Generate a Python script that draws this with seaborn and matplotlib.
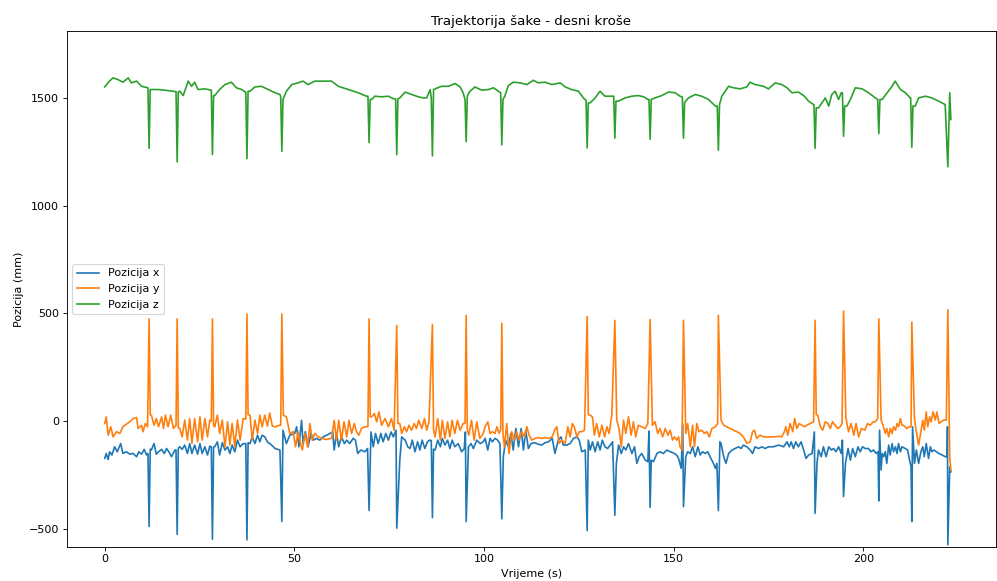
import matplotlib
matplotlib.use("Agg")
import matplotlib.pyplot as plt
import seaborn as sns
import pandas as pd

# trenuci udaraca (s) i vrijednosti u vrhovima
udarci_t = [11.7, 19.1, 28.4, 37.5, 46.7, 69.7, 77.0, 86.4, 95.3, 104.7,
            127.2, 134.5, 143.8, 152.6, 161.8, 187.3, 194.8, 204.1, 212.8, 222.3]
udarci_x = [-489, -525, -548, -551, -466, -415, -497, -448, -466, -454,
            -508, -437, -400, -397, -415, -428, -350, -370, -466, -574]
udarci_y = [475, 475, 475, 498, 498, 475, 444, 449, 491, 455,
            486, 468, 472, 468, 491, 468, 511, 475, 460, 517]
udarci_z = [1267, 1204, 1238, 1219, 1253, 1293, 1238, 1232, 1298, 1283,
            1269, 1314, 1309, 1314, 1258, 1267, 1323, 1335, 1272, 1181]

# (vrijeme, pozicija) izmedju udaraca
poz_x = [
    (0.0, -173), (0.4, -150), (0.9, -178), (1.3, -142), (1.9, -157), (2.6, -119), (3.3, -142),
    (4.2, -104), (4.8, -150), (5.7, -142), (6.6, -153), (7.5, -150), (8.4, -165), (9.0, -142),
    (9.7, -153), (10.4, -131), (11.0, -157), (11.4, -150), (12.0, -130), (12.3, -134), (13.0, -104),
    (13.6, -153), (14.2, -142), (15.0, -131), (15.7, -150), (16.3, -127), (16.9, -142), (17.6, -165),
    (18.5, -134), (18.8, -134), (19.4, -125), (19.8, -119), (20.4, -131), (21.1, -111), (21.8, -150),
    (22.4, -104), (23.0, -150), (23.7, -111), (24.5, -153), (25.1, -104), (25.7, -150), (26.4, -119),
    (27.1, -157), (27.7, -116), (28.1, -120), (28.7, -120), (29.0, -119), (29.7, -96), (30.3, -157),
    (31.0, -100), (31.7, -134), (32.4, -119), (33.0, -150), (33.6, -111), (34.3, -142), (35.0, -88),
    (35.7, -119), (36.5, -104), (37.2, -105), (37.8, -100), (38.3, -104), (38.9, -73), (39.6, -104),
    (40.3, -65), (40.9, -96), (41.5, -65), (42.2, -73), (42.9, -96), (44.0, -111), (44.9, -127),
    (46.2, -134), (47.0, -42), (47.9, -104), (48.8, -65), (50.1, -57), (50.6, -26), (51.2, -119),
    (51.9, 4), (52.3, -104), (52.9, -49), (53.6, -119), (54.4, -57), (55.0, -88), (55.8, -80),
    (56.7, -88), (57.6, -73), (58.5, -65), (59.4, -57), (60.1, -50), (60.5, -134), (61.1, -57),
    (61.7, -119), (62.4, -73), (63.2, -104), (63.8, -88), (64.6, -104), (65.5, -80), (66.1, -88),
    (66.7, -150), (67.5, -134), (68.6, -142), (69.3, -127), (70.2, -50), (70.8, -119), (71.4, -57),
    (72.1, -104), (72.8, -57), (73.4, -96), (74.1, -57), (74.8, -88), (75.5, -50), (76.1, -73),
    (76.8, -42), (77.8, -181), (78.3, -73), (79.2, -88), (79.9, -119), (80.5, -127), (81.1, -88),
    (81.8, -142), (82.5, -96), (83.1, -134), (83.7, -88), (84.4, -127), (85.1, -96), (85.7, -88),
    (86.1, -90), (86.7, -130), (87.1, -134), (87.8, -88), (88.5, -119), (89.0, -80), (89.7, -111),
    (90.4, -88), (91.0, -127), (91.6, -88), (92.3, -119), (93.2, -104), (94.1, -142), (94.8, -127),
    (95.1, -50), (95.9, -119), (96.6, -104), (97.2, -127), (98.1, -88), (99.0, -104), (99.8, -96),
    (100.3, -80), (101.0, -134), (101.6, -80), (102.2, -96), (102.9, -80), (103.6, -88), (104.2, -104),
    (105.1, -165), (105.7, -88), (106.4, -119), (107.1, -57), (107.7, -134), (108.4, -34), (109.1, -119),
    (109.8, -34), (110.4, -134), (111.0, -42), (111.7, -127), (112.4, -104), (113.3, -100), (114.3, -107),
    (115.2, -111), (116.1, -100), (117.0, -96), (118.0, -80), (118.7, -150), (119.6, -88), (120.3, -73),
    (120.9, -111), (121.8, -111), (122.7, -104), (123.6, -80), (124.5, -73), (125.1, -88), (125.8, -142),
    (126.7, -134), (127.5, -88), (128.0, -134), (128.6, -96), (129.3, -142), (130.0, -96), (130.6, -134),
    (131.2, -88), (131.9, -119), (132.6, -127), (133.3, -111), (133.9, -96), (134.9, -196), (135.5, -111),
    (136.2, -150), (136.8, -119), (137.4, -134), (138.1, -104), (139.0, -150), (139.7, -119), (140.3, -196),
    (140.9, -165), (141.6, -150), (142.5, -181), (143.2, -188), (143.5, -46), (144.1, -181), (144.7, -188),
    (145.6, -150), (146.4, -142), (147.3, -150), (148.2, -134), (149.1, -142), (150.2, -150), (150.8, -157),
    (151.3, -173), (152.0, -219), (152.4, -15), (153.2, -165), (153.7, -142), (154.4, -150), (155.0, -119),
    (155.7, -165), (156.4, -119), (157.0, -157), (157.6, -142), (158.3, -150), (159.0, -142), (159.6, -165),
    (160.5, -196), (161.0, -219), (161.4, -196), (162.2, -96), (162.5, -104), (163.2, -165), (163.8, -196),
    (164.5, -150), (165.4, -134), (166.2, -127), (167.1, -119), (167.8, -127), (168.4, -111), (169.3, -119),
    (170.2, -134), (170.8, -150), (171.5, -119), (172.4, -127), (173.3, -119), (174.1, -127), (175.0, -119),
    (176.3, -119), (177.7, -111), (179.0, -119), (179.9, -96), (180.5, -119), (181.0, -96), (181.6, -127),
    (182.2, -96), (182.9, -119), (183.6, -96), (184.3, -134), (184.9, -173), (185.6, -157), (186.5, -150),
    (187.1, -50), (187.8, -196), (188.2, -134), (188.9, -165), (189.5, -119), (190.2, -165), (190.9, -119),
    (191.6, -134), (192.2, -127), (192.8, -142), (193.5, -119), (194.2, -150), (194.5, -88), (195.3, -196),
    (196.0, -127), (196.6, -181), (197.2, -127), (197.9, -165), (198.6, -119), (199.2, -142), (199.8, -119),
    (200.5, -127), (201.4, -127), (202.0, -142), (202.7, -134), (203.4, -150), (203.9, -142), (204.3, -42),
    (204.7, -227), (205.0, -150), (205.4, -165), (205.8, -142), (206.2, -196), (206.7, -111), (207.1, -157),
    (207.6, -104), (208.0, -142), (208.5, -119), (208.9, -150), (209.3, -104), (209.8, -142), (210.2, -119),
    (211.1, -127), (211.7, -134), (212.2, -181), (212.6, -212), (213.0, -26), (213.5, -196), (214.0, -134),
    (214.6, -196), (215.2, -142), (215.7, -119), (216.1, -165), (216.6, -104), (217.2, -173), (217.7, -119),
    (218.1, -142), (218.6, -134), (219.3, -142), (219.9, -150), (220.8, -157), (221.6, -165), (222.1, -165),
    (222.2, -26), (222.8, -212), (223.1, -235),
]

poz_y = [
    (0.0, -11), (0.4, 20), (0.9, -65), (1.6, -26), (2.2, -73), (3.1, -49), (4.0, -57), (4.8, -26),
    (5.7, -14), (6.6, -3), (7.5, 12), (8.4, 17), (8.8, -34), (9.7, -19), (10.1, -49), (10.7, -11),
    (11.3, -26), (12.0, 30), (12.3, 28), (13.0, -19), (13.6, 12), (14.2, -26), (15.0, 20), (15.5, -34),
    (16.0, 28), (16.7, -26), (17.4, 28), (18.1, -34), (18.8, -20), (19.4, -30), (19.8, -34), (20.4, -73),
    (21.1, 5), (21.8, -88), (22.4, 12), (23.0, -103), (23.7, 12), (24.5, -96), (25.1, 20), (25.7, -88),
    (26.4, 12), (27.1, -73), (27.7, 5), (28.1, 0), (28.7, -20), (29.0, -26), (29.7, 28), (30.3, -57),
    (31.0, 5), (31.7, -119), (32.4, -3), (33.0, -111), (33.6, -11), (34.3, -119), (35.0, 5), (35.7, -88),
    (36.5, 12), (37.2, 10), (37.8, 30), (38.3, 28), (38.9, -88), (39.6, 5), (40.3, -57), (40.9, 28),
    (41.5, -26), (42.2, 28), (42.9, -23), (43.5, 38), (44.2, -23), (44.9, -26), (46.2, -19), (46.4, -19),
    (47.1, 28), (47.9, 20), (48.8, -57), (49.7, -49), (50.3, -119), (51.0, -49), (51.4, -88), (52.1, -134),
    (52.8, -57), (53.5, -119), (54.1, -11), (54.7, -88), (55.4, -57), (56.3, -73), (57.2, -80), (58.5, -85),
    (59.8, -80), (60.5, 4), (61.1, -88), (61.7, 4), (62.4, -88), (63.1, -3), (63.8, -73), (64.4, 4),
    (65.1, -57), (65.8, -11), (66.4, -49), (67.0, -65), (67.7, -34), (68.6, -26), (69.4, -26), (70.0, 20),
    (70.4, 20), (71.1, 35), (71.7, -3), (72.3, 43), (73.0, -19), (73.9, 12), (74.8, -26), (75.6, 12),
    (76.3, -42), (77.3, -11), (77.8, -11), (78.3, -57), (79.0, -26), (79.6, -49), (80.2, -19), (80.9, -42),
    (81.6, -11), (82.2, -34), (82.8, 4), (83.6, -34), (84.3, 12), (84.9, -42), (85.5, -3), (86.7, -40),
    (87.1, -73), (87.8, 12), (88.5, -88), (89.0, 4), (89.7, -80), (90.4, -3), (91.0, -73), (91.6, 4),
    (92.3, -57), (93.0, 4), (93.7, -42), (94.5, -11), (95.0, -11), (95.6, -40), (96.0, -65), (96.7, 4),
    (97.4, -88), (98.1, -3), (98.9, -80), (99.8, -57), (100.3, -26), (101.0, -3), (101.6, -57), (102.2, -49),
    (102.9, -57), (103.4, -26), (104.0, -57), (104.4, -40), (105.0, -60), (105.4, -119), (106.0, -11),
    (106.6, -150), (107.3, -49), (108.0, -88), (108.6, -49), (109.2, -88), (109.9, -49), (110.7, -73),
    (111.3, -26), (111.9, -65), (112.6, -88), (113.5, -80), (114.3, -76), (115.2, -80), (116.1, -76),
    (117.0, -80), (118.0, -73), (118.6, -42), (119.2, -26), (119.8, -103), (120.5, -88), (121.4, -103),
    (122.1, -26), (122.7, -73), (123.3, -11), (123.8, -26), (124.5, -73), (125.1, -49), (125.8, -49),
    (126.5, -42), (127.5, 30), (128.0, 28), (128.6, 20), (129.1, -65), (129.7, -11), (130.4, -73),
    (131.1, -19), (131.8, -73), (132.4, -26), (133.0, -57), (133.7, 28), (135.0, 5), (135.6, -34),
    (136.2, -119), (136.8, 5), (137.4, -57), (138.1, 20), (138.8, -65), (139.4, -3), (140.0, -73),
    (140.7, -19), (141.6, -26), (142.5, -34), (143.2, -11), (144.4, -19), (145.1, -3), (145.8, -57),
    (146.4, -34), (147.1, -73), (147.8, -34), (148.5, -65), (149.1, -42), (149.7, -88), (150.2, -73),
    (150.8, -88), (151.3, -73), (151.7, -119), (152.2, -134), (153.2, -57), (153.7, -11), (154.4, -119),
    (155.0, -19), (155.5, -119), (156.1, -11), (156.7, -49), (157.4, -42), (158.1, -57), (158.8, -49),
    (159.4, -73), (160.1, -34), (161.0, -26), (161.6, -11), (162.5, 5), (163.2, -19), (164.0, -26),
    (164.9, -34), (165.8, -42), (166.7, -49), (167.5, -57), (168.4, -73), (169.3, -103), (170.2, -96),
    (170.8, -49), (171.3, -42), (171.9, -80), (172.8, -65), (173.7, -73), (175.0, -73), (176.4, -73),
    (177.7, -70), (178.5, -73), (179.2, -49), (179.6, -26), (180.1, -65), (180.7, -11), (181.4, -49),
    (181.9, 12), (182.5, -34), (183.1, -11), (183.8, -19), (184.5, -26), (185.1, -19), (186.0, -11),
    (186.9, -3), (187.6, 30), (188.0, 28), (188.7, -26), (189.3, -42), (190.0, -3), (190.7, -11),
    (191.3, -34), (191.9, -3), (192.6, -19), (193.3, -34), (193.9, -26), (194.4, -11), (195.4, 20),
    (196.1, -49), (196.8, -11), (197.5, -65), (198.1, -11), (198.8, -73), (199.5, -34), (200.4, -42),
    (201.1, -11), (201.8, -19), (202.6, -3), (203.2, -3), (203.8, 12), (204.7, 5), (205.2, -19),
    (205.8, -57), (206.2, -34), (206.7, -73), (207.1, -34), (207.6, -57), (208.0, -26), (208.5, -42),
    (208.9, -11), (209.3, -26), (209.8, 12), (210.2, -19), (210.6, -19), (211.5, -34), (212.2, -26),
    (212.6, -26), (213.5, 12), (214.0, -49), (214.6, -111), (215.2, -49), (215.7, 4), (216.1, -42),
    (216.6, 43), (217.0, -26), (217.5, 20), (217.9, -3), (218.4, 43), (219.0, 5), (219.4, 43),
    (220.0, -11), (220.5, -3), (221.2, 5), (221.9, 5), (222.8, -165), (223.1, -227),
]

poz_z = [
    (0.0, 1552), (1.3, 1580), (2.2, 1594), (3.5, 1586), (4.8, 1574), (6.2, 1594), (7.0, 1571),
    (8.4, 1579), (9.7, 1555), (11.3, 1548), (11.4, 1548), (12.0, 1540), (12.3, 1540), (14.1, 1540),
    (15.8, 1537), (18.0, 1532), (18.8, 1530), (19.4, 1530), (19.8, 1532), (20.7, 1512), (22.0, 1579),
    (22.9, 1555), (23.7, 1574), (24.6, 1540), (26.4, 1543), (28.0, 1537), (28.1, 1537), (28.7, 1512),
    (29.0, 1512), (30.3, 1540), (31.7, 1563), (33.4, 1574), (34.7, 1548), (36.1, 1540), (37.1, 1528),
    (37.2, 1528), (37.8, 1532), (38.3, 1532), (39.6, 1552), (41.3, 1555), (43.1, 1540), (44.9, 1525),
    (46.2, 1517), (46.4, 1505), (47.0, 1494), (47.9, 1532), (49.3, 1563), (51.0, 1571), (52.3, 1579),
    (53.6, 1563), (55.4, 1579), (57.2, 1579), (59.8, 1579), (61.6, 1555), (64.2, 1540), (66.8, 1525),
    (69.0, 1509), (69.4, 1509), (70.0, 1494), (70.4, 1494), (71.2, 1509), (73.0, 1506), (74.8, 1509),
    (76.1, 1497), (76.7, 1497), (77.3, 1497), (77.8, 1501), (79.2, 1528), (80.9, 1517), (82.7, 1506),
    (84.0, 1501), (84.9, 1501), (85.8, 1540), (86.1, 1501), (86.7, 1540), (87.1, 1543), (88.8, 1555),
    (90.6, 1555), (92.4, 1568), (93.7, 1552), (94.5, 1525), (95.0, 1494), (95.6, 1510), (96.3, 1532),
    (97.6, 1552), (99.4, 1537), (101.2, 1540), (102.5, 1548), (103.8, 1532), (104.4, 1525), (105.0, 1494),
    (105.5, 1509), (106.4, 1558), (107.7, 1574), (109.5, 1571), (111.3, 1563), (113.0, 1583), (114.3, 1571),
    (116.1, 1574), (117.9, 1563), (120.1, 1571), (121.4, 1552), (123.1, 1540), (124.9, 1532), (126.2, 1501),
    (126.9, 1490), (127.5, 1478), (128.0, 1478), (129.3, 1501), (130.6, 1532), (131.9, 1509), (133.7, 1509),
    (134.2, 1509), (134.8, 1486), (135.4, 1486), (137.2, 1501), (139.0, 1509), (140.7, 1512), (142.1, 1506),
    (143.2, 1494), (143.5, 1494), (144.1, 1494), (145.1, 1501), (146.9, 1512), (148.6, 1528), (150.4, 1525),
    (151.7, 1509), (152.3, 1505), (152.9, 1480), (153.9, 1501), (155.7, 1517), (157.4, 1509), (159.2, 1494),
    (161.0, 1463), (161.5, 1463), (162.1, 1470), (162.7, 1509), (164.5, 1555), (165.8, 1548), (167.5, 1543),
    (169.3, 1552), (170.1, 1574), (171.5, 1563), (173.7, 1555), (175.0, 1543), (176.8, 1571), (178.5, 1563),
    (179.9, 1548), (181.2, 1525), (182.9, 1528), (184.3, 1512), (185.6, 1486), (186.9, 1470), (187.0, 1470),
    (187.6, 1455), (188.2, 1455), (189.1, 1478), (190.0, 1501), (190.9, 1463), (191.7, 1517), (192.6, 1532),
    (193.5, 1494), (194.2, 1525), (194.5, 1525), (195.1, 1463), (195.7, 1463), (196.6, 1494), (197.9, 1548),
    (199.7, 1543), (201.4, 1525), (203.2, 1501), (203.8, 1494), (204.4, 1494), (205.0, 1494), (206.3, 1525),
    (207.6, 1555), (208.4, 1579), (209.8, 1540), (211.1, 1525), (212.4, 1501), (212.5, 1501), (213.1, 1463),
    (213.7, 1463), (214.6, 1501), (216.4, 1509), (218.1, 1501), (219.9, 1486), (221.6, 1470), (222.8, 1525),
    (223.1, 1401),
]


def u_tablicu(tocke, vrhovi):
    df = pd.DataFrame(tocke, columns=["t", "v"])
    vr = pd.DataFrame({"t": udarci_t, "v": vrhovi})
    return pd.concat([df, vr], ignore_index=True).sort_values("t")


fig, ax = plt.subplots(figsize=(997 / 80, 581 / 80), dpi=80)
fig.subplots_adjust(left=0.067, right=0.999, bottom=0.059, top=0.946)

serije = [(poz_x, udarci_x, "Pozicija x"),
          (poz_y, udarci_y, "Pozicija y"),
          (poz_z, udarci_z, "Pozicija z")]
for tocke, vrhovi, ime in serije:
    sns.lineplot(data=u_tablicu(tocke, vrhovi), x="t", y="v", ax=ax,
                 label=ime, errorbar=None)

ax.set_xlim(-10, 235)
ax.set_ylim(-583, 1810)
ax.set_title("Trajektorija šake - desni kroše")
ax.set_xlabel("Vrijeme (s)")
ax.set_ylabel("Pozicija (mm)")
ax.legend(loc="center left")

fig.savefig("out.png", dpi=80)
